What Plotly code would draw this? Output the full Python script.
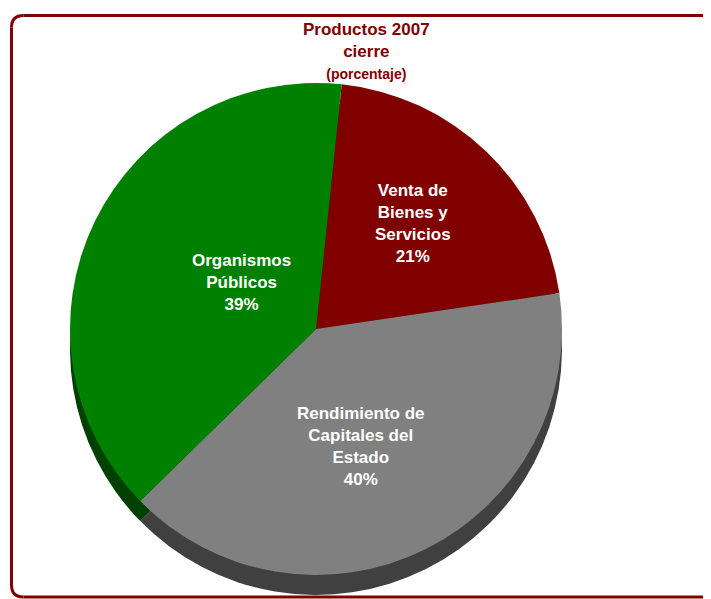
import plotly.graph_objects as go

labels = ["Venta de Bienes y Servicios", "Rendimiento de Capitales del Estado", "Organismos Públicos"]
label_lines = ["Venta de<br>Bienes y<br>Servicios", "Rendimiento de<br>Capitales del<br>Estado", "Organismos<br>Públicos"]
values = [21, 40, 39]
top_colors = ["#800000", "#808080", "#008000"]
side_colors = ["#400000", "#404040", "#004000"]
title_lines = ["Productos 2007", "cierre", "(porcentaje)"]

# page body has an 8px margin; figure sized to fit the window
OFF = 8
W, H = 711 - OFF, 599 - OFF
cx, cy, r, depth = 316, 329, 246, 20
start_angle = 6


def px(x):
    return (x - OFF) / W


def py(y):
    return 1 - (y - OFF) / H


fig = go.Figure()
# extruded side (darker, shifted down)
fig.add_trace(go.Pie(
    labels=labels, values=values, sort=False, direction="clockwise", rotation=start_angle,
    marker=dict(colors=side_colors, line=dict(width=0)),
    textinfo="none", hoverinfo="skip", showlegend=False,
    domain=dict(x=[px(cx - r), px(cx + r)], y=[py(cy + depth + r), py(cy + depth - r)]),
))
# top face
fig.add_trace(go.Pie(
    labels=labels, values=values, sort=False, direction="clockwise", rotation=start_angle,
    marker=dict(colors=top_colors, line=dict(width=0)),
    textinfo="none", hoverinfo="label+percent", showlegend=False,
    domain=dict(x=[px(cx - r), px(cx + r)], y=[py(cy + r), py(cy - r)]),
))

label_pos = [(413, 223), (361, 491), (190, 282)]
for (lx, ly), txt, v in zip(label_pos, label_lines, values):
    fig.add_annotation(x=px(lx), y=py(ly), xref="paper", yref="paper", showarrow=False,
                       text=f"<b>{txt}<br>{v}%</b>", align="center",
                       font=dict(family="Liberation Sans, Arial", size=17, color="white"))

fig.add_annotation(x=px(366), y=py(18), xref="paper", yref="paper", showarrow=False,
                   yanchor="top", align="center",
                   text=f"<b>{title_lines[0]}<br>{title_lines[1]}</b><br><b><span style='font-size:14px'>{title_lines[2]}</span></b>",
                   font=dict(family="Liberation Sans, Arial", size=17, color="#800000"))

# frame: separate pieces, right side lies outside the picture
L, T, B, rr = 11.5, 15.5, 597, 12
frame = dict(color="#800000", width=3)
fig.add_shape(type="line", x0=px(L + rr), x1=1.0, y0=py(T), y1=py(T), xref="paper", yref="paper", line=frame)
fig.add_shape(type="line", x0=px(L + rr), x1=1.0, y0=py(B), y1=py(B), xref="paper", yref="paper", line=frame)
fig.add_shape(type="line", x0=px(L), x1=px(L), y0=py(T + rr), y1=py(B - rr), xref="paper", yref="paper", line=frame)
fig.add_shape(type="path", xref="paper", yref="paper", line=frame,
              path=f"M {px(L)},{py(T+rr)} Q {px(L)},{py(T)} {px(L+rr)},{py(T)}")
fig.add_shape(type="path", xref="paper", yref="paper", line=frame,
              path=f"M {px(L)},{py(B-rr)} Q {px(L)},{py(B)} {px(L+rr)},{py(B)}")

fig.update_layout(width=W, height=H, margin=dict(l=0, r=0, t=0, b=0),
                  paper_bgcolor="white", plot_bgcolor="white")
fig.write_html("out.html")
